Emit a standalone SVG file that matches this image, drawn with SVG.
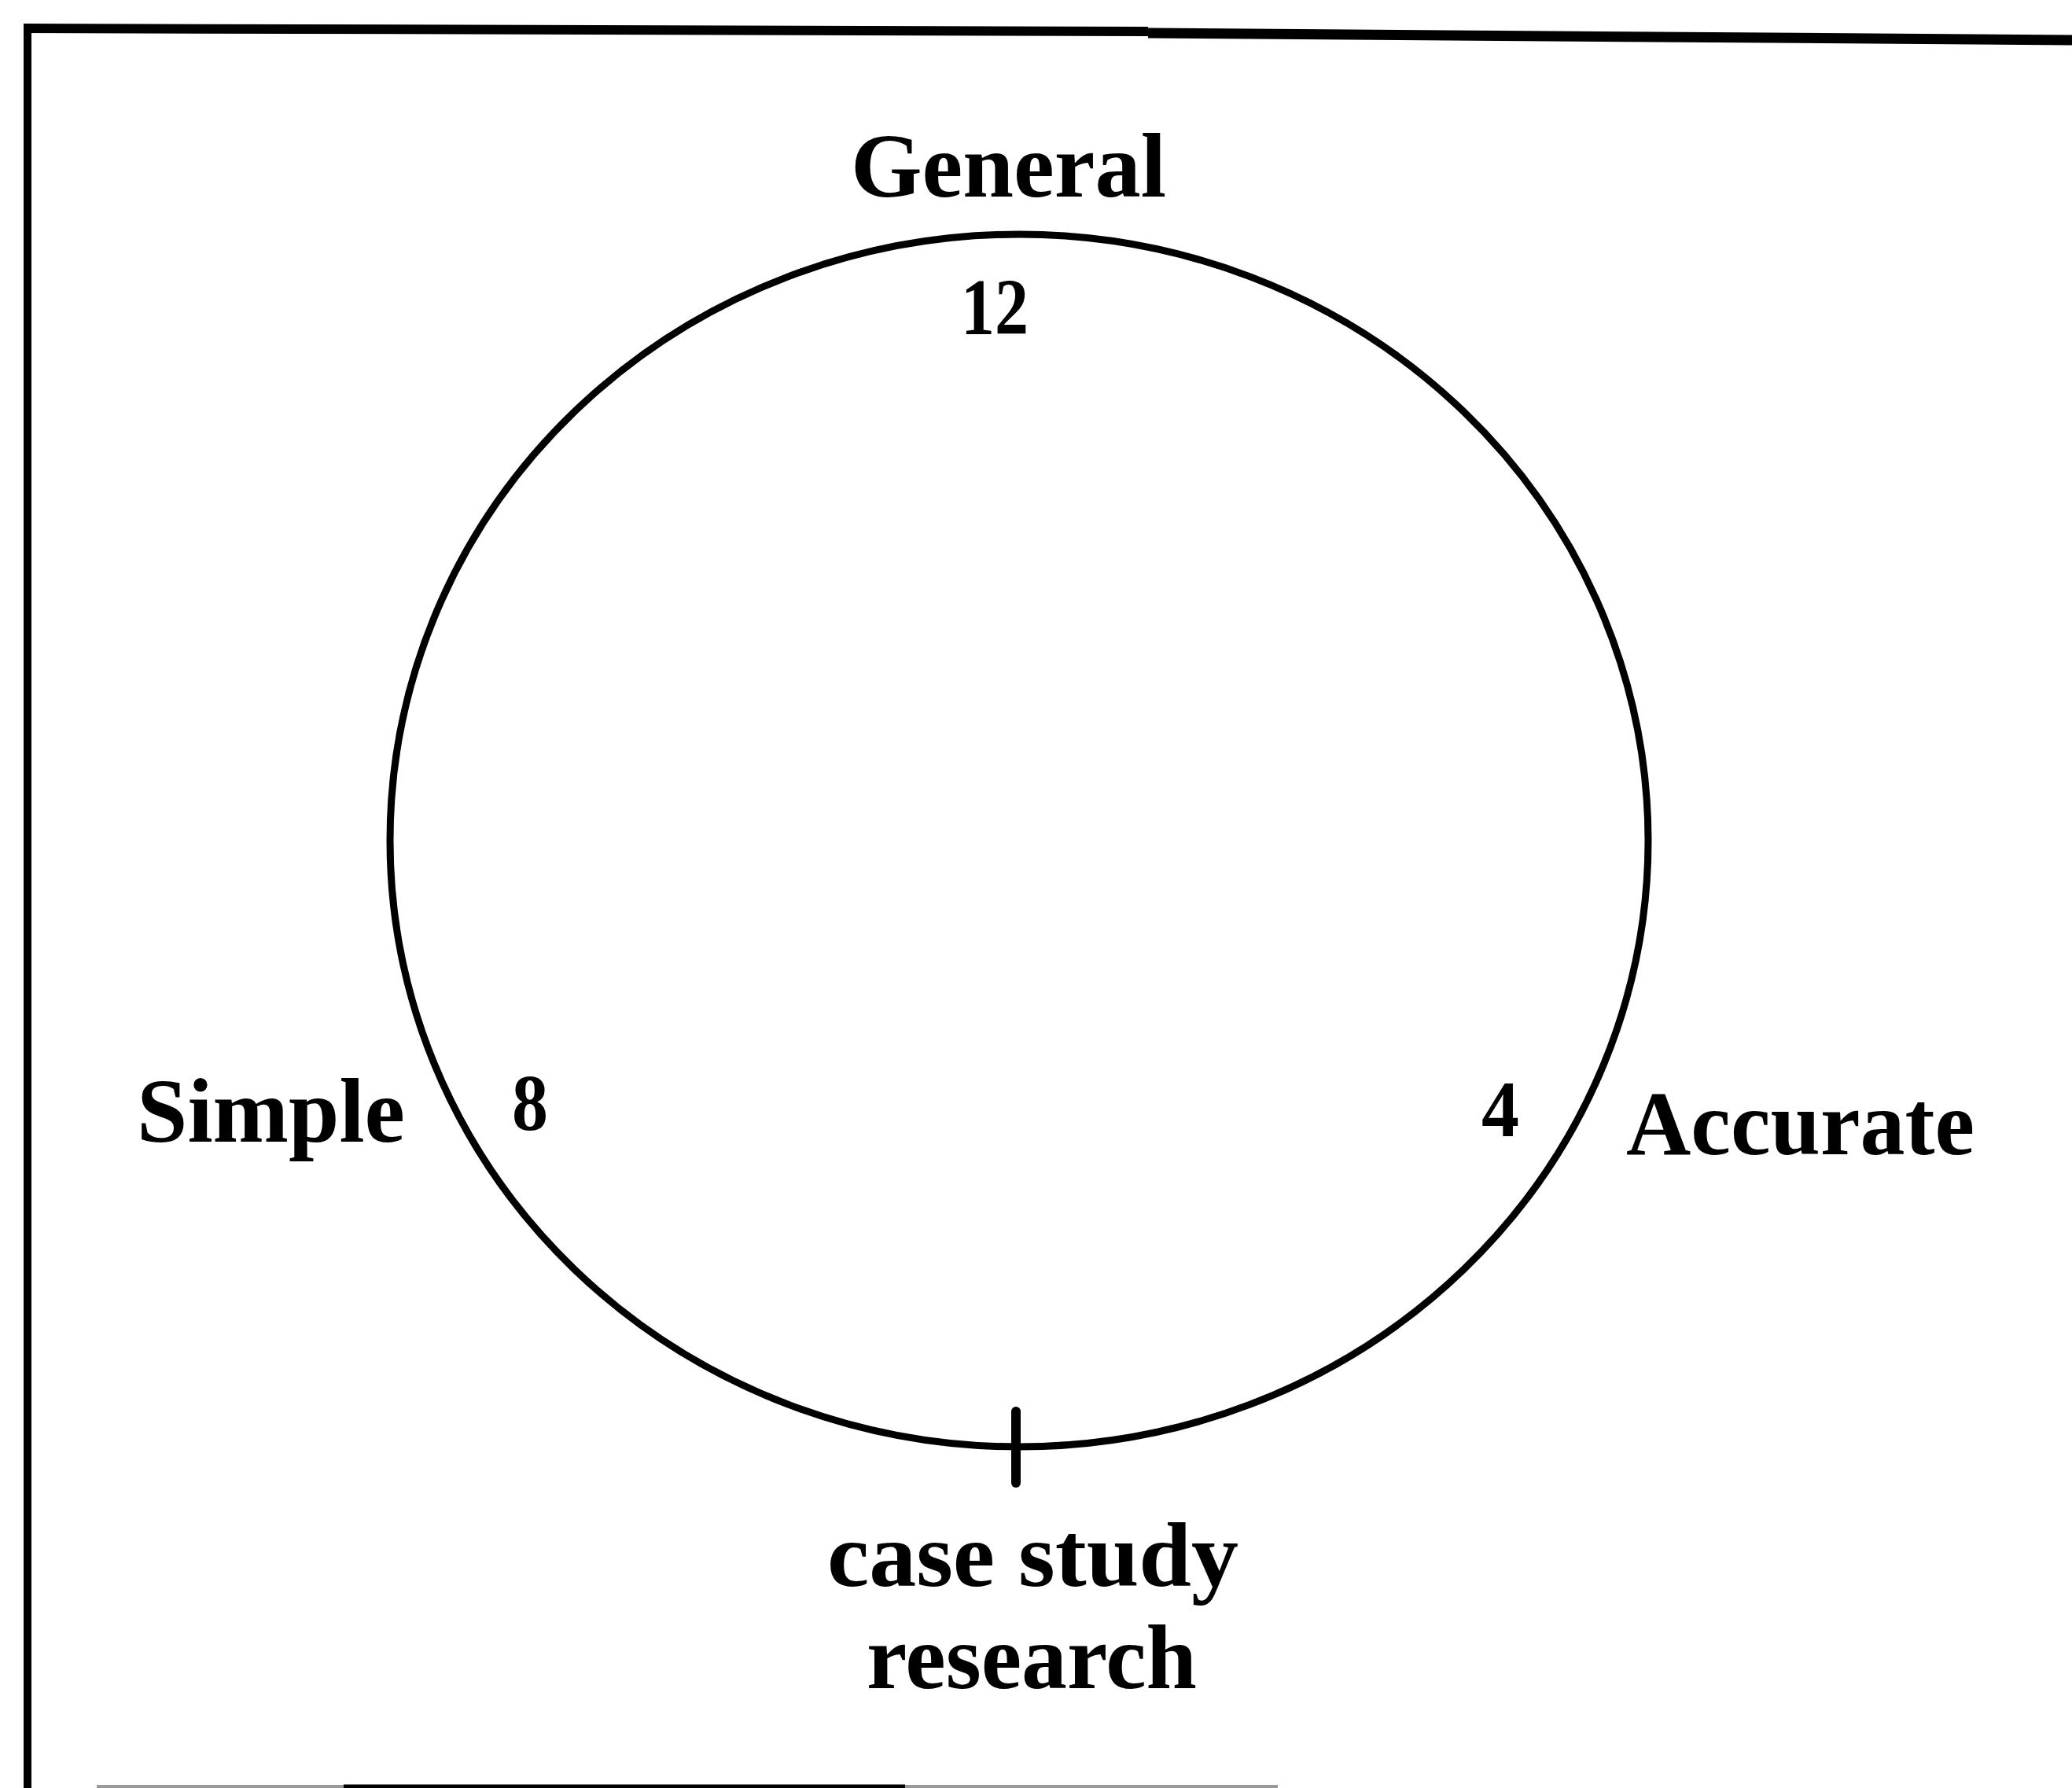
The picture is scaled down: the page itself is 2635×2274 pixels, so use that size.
<svg xmlns="http://www.w3.org/2000/svg" width="2635" height="2274" viewBox="0 0 2635 2274">
<style>
.lbl{font-family:"Liberation Serif","Times New Roman",serif;font-weight:bold;fill:#000;text-anchor:start}
.big{font-size:116px}
.num{font-size:102px}
.ln{stroke:#000;fill:none}
</style>
<rect x="0" y="0" width="2635" height="2274" fill="#fff"/>
<g id="frame">
<line class="ln" x1="35" y1="31" x2="35" y2="2274" stroke-width="10"/>
<line class="ln" x1="30" y1="36" x2="1460" y2="40" stroke-width="12"/>
<line class="ln" x1="1460" y1="42" x2="2635" y2="51" stroke-width="13"/>
<line x1="123" y1="2272" x2="1625" y2="2272" stroke="#999" stroke-width="4"/>
<line x1="437" y1="2272" x2="1151" y2="2272" stroke="#000" stroke-width="5"/>
</g>
<g id="cycle">
<ellipse class="ln" cx="1296" cy="1069" rx="800" ry="771" stroke-width="9"/>
</g>
<g id="connectors">
<line class="ln" x1="1292" y1="1795" x2="1292" y2="1886" stroke-width="12" stroke-linecap="round"/>
</g>
<g id="node-general">
<text class="lbl big" x="1082" y="250" textLength="401" lengthAdjust="spacingAndGlyphs">General</text>
<text class="lbl num" x="1222" y="425" textLength="86" lengthAdjust="spacingAndGlyphs">12</text>
</g>
<g id="node-simple">
<text class="lbl big" x="174" y="1452" textLength="341" lengthAdjust="spacingAndGlyphs">Simple</text>
<text class="lbl num" x="651" y="1437" textLength="46" lengthAdjust="spacingAndGlyphs">8</text>
</g>
<g id="node-accurate">
<text class="lbl big" x="2068" y="1468" textLength="443" lengthAdjust="spacingAndGlyphs">Accurate</text>
<text class="lbl num" x="1884" y="1445" textLength="48" lengthAdjust="spacingAndGlyphs">4</text>
</g>
<g id="node-case-study">
<text class="lbl big" x="1052" y="2017" textLength="523" lengthAdjust="spacingAndGlyphs">case study</text>
<text class="lbl big" x="1102" y="2147" textLength="420" lengthAdjust="spacingAndGlyphs">research</text>
</g>
</svg>
